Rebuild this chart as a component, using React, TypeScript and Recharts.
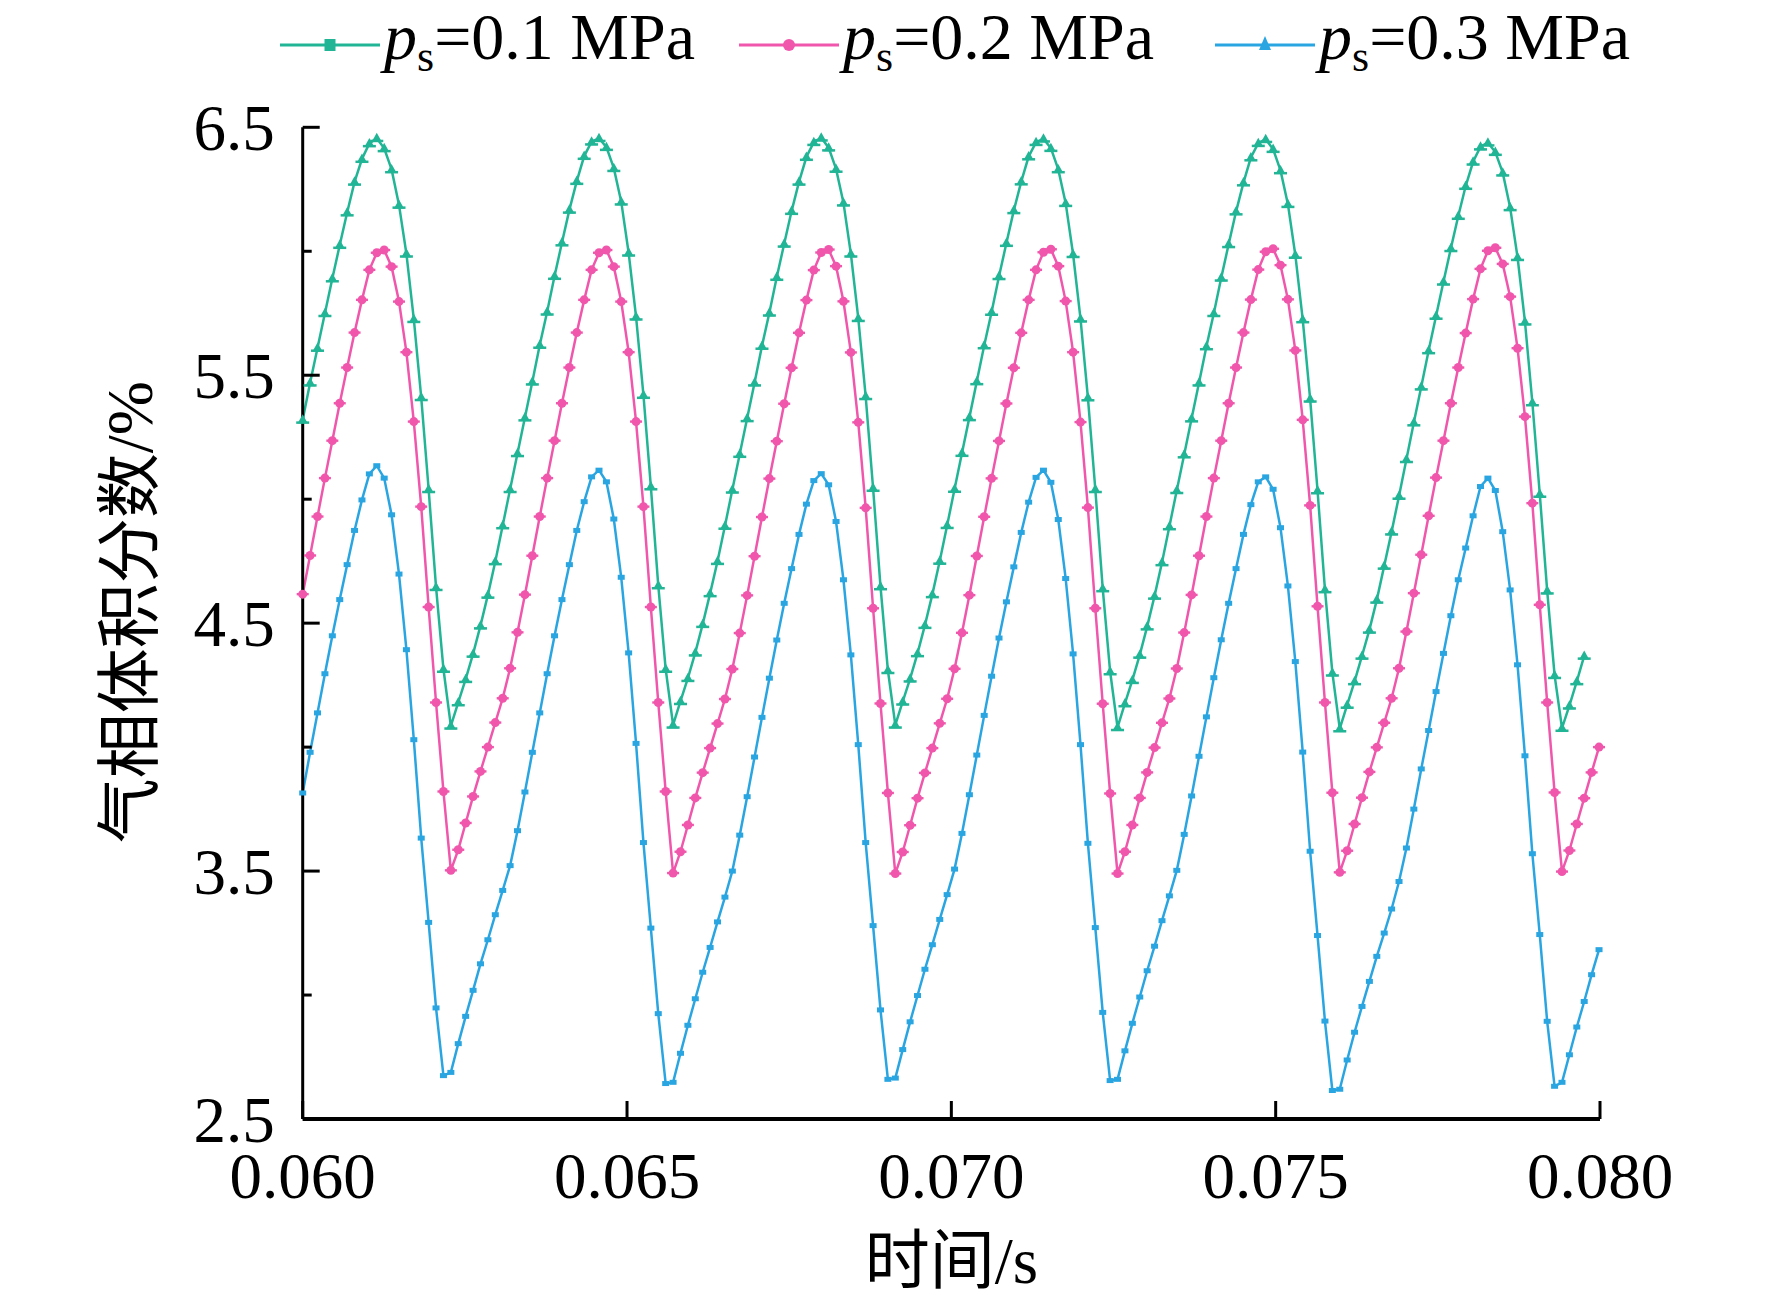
import React from "react";
import { Line, LineChart, XAxis, YAxis } from "recharts";

// time grid of the transient run
const T0 = 0.06;
const STEP = 0.0001142;

const xTicks = [0.06, 0.065, 0.07, 0.075, 0.08];
const yTicks = [2.5, 3, 3.5, 4, 4.5, 5, 5.5, 6, 6.5];

// p_s = 0.1 MPa
const ps01 = [
  5.32, 5.47, 5.61, 5.75, 5.89, 6.025, 6.156, 6.28, 6.372, 6.435, 6.456, 6.415, 6.33, 6.187, 5.99, 5.726, 5.411, 5.04, 4.645, 4.315,
  4.086, 4.18, 4.274, 4.376, 4.49, 4.614, 4.749, 4.894, 5.04, 5.185, 5.329, 5.474, 5.622, 5.756, 5.9, 6.035, 6.167, 6.283, 6.384, 6.442, 6.456, 6.42, 6.335, 6.2, 5.994, 5.736, 5.42, 5.051, 4.652, 4.315,
  4.09, 4.185, 4.278, 4.381, 4.496, 4.62, 4.75, 4.892, 5.038, 5.182, 5.326, 5.47, 5.618, 5.752, 5.896, 6.03, 6.162, 6.28, 6.38, 6.44, 6.458, 6.418, 6.332, 6.196, 5.99, 5.73, 5.415, 5.045, 4.648, 4.31,
  4.09, 4.183, 4.276, 4.378, 4.492, 4.616, 4.751, 4.895, 5.041, 5.186, 5.33, 5.475, 5.62, 5.755, 5.899, 6.033, 6.165, 6.281, 6.382, 6.44, 6.454, 6.416, 6.33, 6.194, 5.988, 5.728, 5.41, 5.04, 4.64, 4.305,
  4.08, 4.176, 4.27, 4.372, 4.486, 4.61, 4.745, 4.89, 5.036, 5.18, 5.325, 5.47, 5.616, 5.75, 5.893, 6.028, 6.16, 6.277, 6.378, 6.436, 6.452, 6.412, 6.326, 6.19, 5.985, 5.725, 5.405, 5.035, 4.636, 4.3,
  4.075, 4.17, 4.265, 4.368, 4.473, 4.594, 4.731, 4.869, 5.013, 5.161, 5.309, 5.454, 5.6, 5.739, 5.877, 6.012, 6.142, 6.263, 6.361, 6.422, 6.438, 6.4, 6.317, 6.177, 5.976, 5.716, 5.39, 5.021, 4.631, 4.29,
  4.077, 4.167, 4.265, 4.368,
];

// p_s = 0.2 MPa
const ps02 = [
  4.617, 4.773, 4.93, 5.085, 5.236, 5.387, 5.531, 5.672, 5.804, 5.925, 5.994, 6.005, 5.938, 5.797, 5.593, 5.313, 4.97, 4.565, 4.18, 3.821,
  3.503, 3.586, 3.694, 3.801, 3.902, 4.0, 4.099, 4.197, 4.318, 4.463, 4.615, 4.772, 4.93, 5.085, 5.236, 5.387, 5.531, 5.672, 5.804, 5.925, 5.994, 6.005, 5.938, 5.797, 5.593, 5.313, 4.97, 4.565, 4.18, 3.821,
  3.492, 3.578, 3.686, 3.795, 3.897, 3.996, 4.095, 4.194, 4.315, 4.46, 4.612, 4.77, 4.928, 5.083, 5.234, 5.385, 5.53, 5.671, 5.803, 5.924, 5.995, 6.007, 5.94, 5.798, 5.592, 5.31, 4.965, 4.56, 4.176, 3.815,
  3.49, 3.577, 3.685, 3.794, 3.896, 3.996, 4.096, 4.195, 4.316, 4.461, 4.613, 4.771, 4.929, 5.084, 5.235, 5.386, 5.53, 5.671, 5.804, 5.925, 5.996, 6.008, 5.94, 5.799, 5.593, 5.311, 4.966, 4.56, 4.175, 3.813,
  3.49, 3.578, 3.686, 3.795, 3.898, 3.998, 4.098, 4.196, 4.317, 4.462, 4.614, 4.772, 4.93, 5.085, 5.236, 5.387, 5.531, 5.672, 5.805, 5.926, 5.998, 6.01, 5.944, 5.806, 5.6, 5.32, 4.975, 4.568, 4.18, 3.816,
  3.495, 3.582, 3.69, 3.796, 3.9, 3.999, 4.098, 4.197, 4.318, 4.466, 4.621, 4.776, 4.933, 5.087, 5.236, 5.387, 5.531, 5.67, 5.807, 5.929, 6.002, 6.014, 5.949, 5.817, 5.609, 5.333, 4.984, 4.574, 4.18, 3.817,
  3.498, 3.583, 3.69, 3.794, 3.898, 4.0,
];

// p_s = 0.3 MPa
const ps03 = [
  3.815, 3.979, 4.138, 4.296, 4.449, 4.595, 4.736, 4.874, 4.997, 5.102, 5.135, 5.085, 4.937, 4.698, 4.393, 4.03, 3.633, 3.293, 2.948, 2.675,
  2.688, 2.804, 2.914, 3.019, 3.126, 3.223, 3.324, 3.422, 3.522, 3.663, 3.819, 3.979, 4.138, 4.296, 4.449, 4.595, 4.736, 4.874, 4.99, 5.09, 5.117, 5.07, 4.92, 4.685, 4.38, 4.015, 3.615, 3.27, 2.925, 2.643,
  2.648, 2.765, 2.878, 2.985, 3.092, 3.192, 3.295, 3.395, 3.5, 3.645, 3.8, 3.96, 4.12, 4.278, 4.432, 4.58, 4.72, 4.858, 4.98, 5.075, 5.103, 5.058, 4.91, 4.675, 4.372, 4.01, 3.615, 3.28, 2.94, 2.66,
  2.665, 2.78, 2.892, 2.998, 3.104, 3.203, 3.305, 3.405, 3.508, 3.652, 3.808, 3.968, 4.128, 4.286, 4.44, 4.586, 4.727, 4.866, 4.988, 5.088, 5.117, 5.068, 4.918, 4.68, 4.376, 4.01, 3.612, 3.272, 2.93, 2.655,
  2.66, 2.775, 2.886, 2.992, 3.098, 3.197, 3.3, 3.4, 3.503, 3.648, 3.803, 3.963, 4.122, 4.28, 4.433, 4.58, 4.72, 4.858, 4.978, 5.07, 5.09, 5.04, 4.885, 4.65, 4.345, 3.98, 3.58, 3.24, 2.895, 2.615,
  2.62, 2.738, 2.85, 2.954, 3.055, 3.156, 3.25, 3.347, 3.458, 3.593, 3.75, 3.912, 4.067, 4.224, 4.378, 4.53, 4.675, 4.803, 4.933, 5.051, 5.085, 5.035, 4.869, 4.634, 4.332, 3.965, 3.57, 3.244, 2.894, 2.632,
  2.648, 2.759, 2.871, 2.974, 3.082, 3.183,
];

const GREEN = "#21b596";
const PINK = "#f057ac";
const BLUE = "#29a5e1";
const FONT = '"Liberation Serif", "Noto Sans CJK SC", serif';
const FS = 65;

const rows = ps03.map((_, i) => ({
  t: T0 + i * STEP,
  a: ps01[i],
  b: ps02[i],
  c: ps03[i],
}));

function TriDot(props: any) {
  const { cx, cy, index } = props;
  if (cx == null || cy == null) return <g key={`a${index}`} />;
  return (
    <g key={`a${index}`} fill={GREEN}>
      <path d={`M${cx},${cy - 5.5} L${cx + 5},${cy + 3.5} L${cx - 5},${cy + 3.5} Z`} />
      <rect x={cx - 6.5} y={cy + 1.5} width={13} height={2.5} />
    </g>
  );
}

function RoundDot(props: any) {
  const { cx, cy, index } = props;
  if (cx == null || cy == null) return <g key={`b${index}`} />;
  return (
    <g key={`b${index}`} fill={PINK}>
      <circle cx={cx} cy={cy} r={4.5} />
      <rect x={cx - 6} y={cy - 1.2} width={12} height={2.4} />
    </g>
  );
}

function SquareDot(props: any) {
  const { cx, cy, index } = props;
  if (cx == null || cy == null) return <g key={`c${index}`} />;
  return <rect key={`c${index}`} x={cx - 3.5} y={cy - 2.5} width={7} height={5} fill={BLUE} />;
}

function YTick(props: any) {
  const { x, y, payload } = props;
  const v = payload.value;
  const major = Math.abs((v * 2) % 2 - 1) < 1e-6;
  return (
    <g>
      <line x1={x} y1={y} x2={x + (major ? 17 : 9)} y2={y} stroke="#000" strokeWidth={3} />
      {major && (
        <text x={x - 28} y={y + 23} textAnchor="end" fontFamily={FONT} fontSize={FS} fill="#000">
          {v.toFixed(1)}
        </text>
      )}
    </g>
  );
}

function XTick(props: any) {
  const { x, y, payload } = props;
  return (
    <g>
      <line x1={x} y1={y} x2={x} y2={y - 18} stroke="#000" strokeWidth={3} />
      <text x={x} y={y + 79} textAnchor="middle" fontFamily={FONT} fontSize={FS} fill="#000">
        {payload.value.toFixed(3)}
      </text>
    </g>
  );
}

function XTitle(props: any) {
  const vb = props.viewBox || {};
  const cx = (vb.x ?? 303) + (vb.width ?? 1297) / 2;
  return (
    <text x={cx} y={1283} textAnchor="middle" fontFamily={FONT} fontSize={FS} fill="#000">
      <tspan fontFamily='"Noto Sans CJK SC", sans-serif'>时间</tspan>
      <tspan>/s</tspan>
    </text>
  );
}

function YTitle(props: any) {
  const vb = props.viewBox || {};
  const cx = 152;
  const cy = (vb.y ?? 127) + (vb.height ?? 992) / 2 - 11;
  return (
    <text
      x={cx}
      y={cy}
      transform={`rotate(-90, ${cx}, ${cy})`}
      textAnchor="middle"
      fontFamily={FONT}
      fontSize={FS}
      fill="#000"
    >
      <tspan fontFamily='"Noto Sans CJK SC", sans-serif'>气相体积分数</tspan>
      <tspan>/%</tspan>
    </text>
  );
}

const legendItems = [
  { label: "=0.1 MPa", color: GREEN, x: 280, marker: "square" },
  { label: "=0.2 MPa", color: PINK, x: 739, marker: "circle" },
  { label: "=0.3 MPa", color: BLUE, x: 1215, marker: "triangle" },
];

function LegendRow() {
  return (
    <svg width={1772} height={110} style={{ position: "absolute", left: 0, top: 0 }}>
      {legendItems.map((it) => {
        const mx = it.x + 50;
        return (
          <g key={it.label}>
            <line x1={it.x} y1={45} x2={it.x + 100} y2={45} stroke={it.color} strokeWidth={3.2} />
            {it.marker === "square" && <rect x={mx - 5.5} y={39} width={11} height={12} fill={it.color} />}
            {it.marker === "circle" && <circle cx={mx} cy={45} r={6} fill={it.color} />}
            {it.marker === "triangle" && (
              <path d={`M${mx},${36} L${mx + 6},${50} L${mx - 6},${50} Z`} fill={it.color} />
            )}
            <text x={it.x + 104} y={59} fontFamily={FONT} fontSize={66} fill="#000">
              <tspan fontStyle="italic">p</tspan>
              <tspan fontSize={44} dy={12}>s</tspan>
              <tspan dy={-12}>{it.label}</tspan>
            </text>
          </g>
        );
      })}
    </svg>
  );
}

export default function App() {
  return (
    <div style={{ position: "absolute", left: 0, top: 0, width: 1772, height: 1304, background: "#fff" }}>
      <LineChart
        width={1772}
        height={1304}
        data={rows}
        margin={{ top: 127.3, right: 172, bottom: 0, left: 102.7 }}
      >
        <XAxis
          type="number"
          dataKey="t"
          domain={[0.06, 0.08]}
          ticks={xTicks}
          interval={0}
          height={185}
          tickSize={0}
          tickMargin={0}
          tickLine={false}
          tick={<XTick />}
          axisLine={{ stroke: "#000", strokeWidth: 4 }}
          label={(p: any) => <XTitle {...p} />}
        />
        <YAxis
          type="number"
          domain={[2.5, 6.5]}
          ticks={yTicks}
          interval={0}
          width={200}
          tickSize={0}
          tickMargin={0}
          tickLine={false}
          tick={<YTick />}
          axisLine={{ stroke: "#000", strokeWidth: 3 }}
          label={(p: any) => <YTitle {...p} />}
        />
        <Line dataKey="a" type="linear" stroke={GREEN} strokeWidth={2.5} dot={TriDot} activeDot={false} isAnimationActive={false} />
        <Line dataKey="b" type="linear" stroke={PINK} strokeWidth={2.5} dot={RoundDot} activeDot={false} isAnimationActive={false} />
        <Line dataKey="c" type="linear" stroke={BLUE} strokeWidth={2.5} dot={SquareDot} activeDot={false} isAnimationActive={false} />
      </LineChart>
      <LegendRow />
    </div>
  );
}
